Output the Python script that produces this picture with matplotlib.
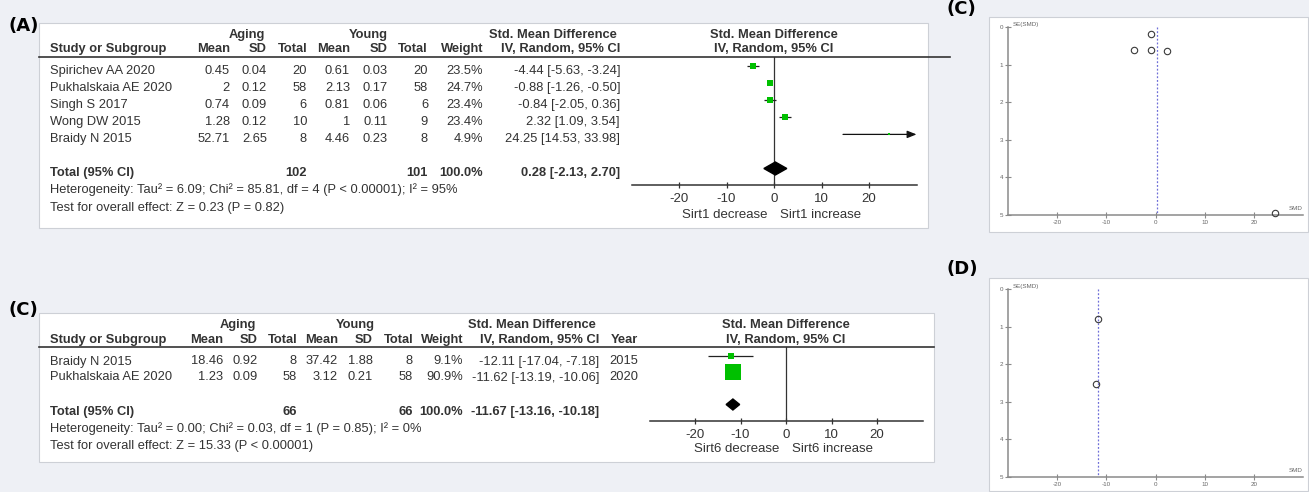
import matplotlib
matplotlib.use("Agg")
import matplotlib.pyplot as plt
from matplotlib.patches import Rectangle, Polygon

plt.rcParams["font.family"] = ["Liberation Sans", "DejaVu Sans"]
plt.rcParams["axes.unicode_minus"] = False

# ---------------- Sirt1 (panel A / funnel C) ----------------
sirt1_studies = ["Spirichev AA 2020", "Pukhalskaia AE 2020", "Singh S 2017",
                 "Wong DW 2015", "Braidy N 2015"]
sirt1_aging_mean = [0.45, 2, 0.74, 1.28, 52.71]
sirt1_aging_sd = [0.04, 0.12, 0.09, 0.12, 2.65]
sirt1_aging_n = [20, 58, 6, 10, 8]
sirt1_young_mean = [0.61, 2.13, 0.81, 1, 4.46]
sirt1_young_sd = [0.03, 0.17, 0.06, 0.11, 0.23]
sirt1_young_n = [20, 58, 6, 9, 8]
sirt1_weight = [23.5, 24.7, 23.4, 23.4, 4.9]
sirt1_smd = [-4.44, -0.88, -0.84, 2.32, 24.25]
sirt1_lo = [-5.63, -1.26, -2.05, 1.09, 14.53]
sirt1_hi = [-3.24, -0.50, 0.36, 3.54, 33.98]
sirt1_se = [0.61, 0.19, 0.62, 0.63, 4.96]
sirt1_total = [0.28, -2.13, 2.70]
sirt1_n_total = [102, 101]
sirt1_het = "Heterogeneity: Tau² = 6.09; Chi² = 85.81, df = 4 (P < 0.00001); I² = 95%"
sirt1_test = "Test for overall effect: Z = 0.23 (P = 0.82)"

# ---------------- Sirt6 (panel C / funnel D) ----------------
sirt6_studies = ["Braidy N 2015", "Pukhalskaia AE 2020"]
sirt6_aging_mean = [18.46, 1.23]
sirt6_aging_sd = [0.92, 0.09]
sirt6_aging_n = [8, 58]
sirt6_young_mean = [37.42, 3.12]
sirt6_young_sd = [1.88, 0.21]
sirt6_young_n = [8, 58]
sirt6_weight = [9.1, 90.9]
sirt6_smd = [-12.11, -11.62]
sirt6_lo = [-17.04, -13.19]
sirt6_hi = [-7.18, -10.06]
sirt6_year = [2015, 2020]
sirt6_se = [2.52, 0.80]
sirt6_total = [-11.67, -13.16, -10.18]
sirt6_n_total = [66, 66]
sirt6_het = "Heterogeneity: Tau² = 0.00; Chi² = 0.03, df = 1 (P = 0.85); I² = 0%"
sirt6_test = "Test for overall effect: Z = 15.33 (P < 0.00001)"

smd_ticks = [-20, -10, 0, 10, 20]
se_ticks = [0, 1, 2, 3, 4, 5]

W, H = 1309, 492
fig = plt.figure(figsize=(W / 100, H / 100), dpi=100)
fig.patch.set_facecolor("#eef0f5")

base = fig.add_axes([0, 0, 1, 1])
base.set_xlim(0, W)
base.set_ylim(H, 0)
base.axis("off")

TXT = "#333333"
GREEN = "#00c000"
FS = 9.3


def px_axes(x0, y0, x1, y1):
    a = fig.add_axes([x0 / W, 1 - y1 / H, (x1 - x0) / W, (y1 - y0) / H])
    a.set_facecolor("none")
    return a


def box(x0, y0, x1, y1):
    base.add_patch(Rectangle((x0, y0), x1 - x0, y1 - y0, facecolor="white",
                             edgecolor="#cdd0d6", lw=0.8, zorder=0))


def t(x, y, s, ha="left", bold=False, size=FS):
    base.text(x, y, s, ha=ha, va="baseline", fontsize=size, color=TXT,
              fontweight="bold" if bold else "normal")


def num(v):
    return f"{v:g}"


def forest(L, studies, am, asd, an, ym, ysd, yn, wt, smd, lo, hi, total,
           ntot, het, test, gene, year=None):
    box(*L["box"])
    cols = L["cols"]
    # header rows
    t(cols["aging_c"], L["h1"], "Aging", ha="center", bold=True)
    t(cols["young_c"], L["h1"], "Young", ha="center", bold=True)
    t(cols["smd_c"], L["h1"], "Std. Mean Difference", ha="center", bold=True)
    t(50, L["h2"], "Study or Subgroup", bold=True)
    for key, lab in [("am", "Mean"), ("asd", "SD"), ("an", "Total"),
                     ("ym", "Mean"), ("ysd", "SD"), ("yn", "Total"),
                     ("w", "Weight"), ("ci", "IV, Random, 95% CI")]:
        t(cols[key], L["h2"], lab, ha="right", bold=True)
    if year is not None:
        t(cols["year"], L["h2"], "Year", ha="right", bold=True)
    base.plot([39, L["line_end"]], [L["line"], L["line"]], color=TXT, lw=1.2)

    # study rows
    for i, name in enumerate(studies):
        yb = L["row0"] + L["dy"] * i
        t(50, yb, name)
        t(cols["am"], yb, num(am[i]), ha="right")
        t(cols["asd"], yb, num(asd[i]), ha="right")
        t(cols["an"], yb, str(an[i]), ha="right")
        t(cols["ym"], yb, num(ym[i]), ha="right")
        t(cols["ysd"], yb, num(ysd[i]), ha="right")
        t(cols["yn"], yb, str(yn[i]), ha="right")
        t(cols["w"], yb, f"{wt[i]:.1f}%", ha="right")
        t(cols["ci"], yb, f"{smd[i]:.2f} [{lo[i]:.2f}, {hi[i]:.2f}]", ha="right")
        if year is not None:
            t(cols["year"], yb, str(year[i]), ha="right")

    # totals
    tb = L["tot"]
    t(50, tb, "Total (95% CI)", bold=True)
    t(cols["an"], tb, str(ntot[0]), ha="right", bold=True)
    t(cols["yn"], tb, str(ntot[1]), ha="right", bold=True)
    t(cols["w"], tb, "100.0%", ha="right", bold=True)
    t(cols["ci"], tb, f"{total[0]:.2f} [{total[1]:.2f}, {total[2]:.2f}]",
      ha="right", bold=True)
    t(50, L["het"], het)
    t(50, L["test"], test)

    # plot column
    x0, x1 = L["plot_x"]
    ytop, yax = L["line"], L["axis"]
    t(x0 + (x1 - x0) / 2, L["h1"], "Std. Mean Difference", ha="center", bold=True)
    t(x0 + (x1 - x0) / 2, L["h2"], "IV, Random, 95% CI", ha="center", bold=True)

    ax = px_axes(x0, ytop, x1, yax)
    ax.set_xlim(-30, 30)
    ax.set_ylim(yax, ytop)
    for s in ["top", "left", "right"]:
        ax.spines[s].set_visible(False)
    ax.spines["bottom"].set_color(TXT)
    ax.spines["bottom"].set_linewidth(1.1)
    ax.set_yticks([])
    ax.set_xticks(smd_ticks)
    ax.tick_params(axis="x", direction="inout", length=5, width=0.9,
                   pad=3.5, labelsize=9.5, colors=TXT)
    ax.axvline(0, color=TXT, lw=0.9)

    xmax = ax.get_xlim()[1]
    for i in range(len(studies)):
        y = L["row0"] + L["dy"] * i - L["mk_off"]
        if hi[i] > xmax:
            ax.annotate("", xy=(xmax, y), xytext=(lo[i], y),
                        arrowprops=dict(arrowstyle="-|>,head_length=0.55,head_width=0.22",
                                        color="#111111", lw=0.9,
                                        shrinkA=0, shrinkB=0),
                        annotation_clip=False)
        else:
            ax.plot([lo[i], hi[i]], [y, y], color="#222222", lw=0.9,
                    solid_capstyle="butt")
        side = L["sq_scale"] * wt[i] ** 0.5
        ax.plot(smd[i], y, "s", ms=side * 0.72, color=GREEN, mec=GREEN,
                mew=0, zorder=5, clip_on=False)

    yd = L["tot"] - L["dia_off"]
    h = L["dia_h"]
    ax.add_patch(Polygon([(total[1], yd), (total[0], yd - h), (total[2], yd),
                          (total[0], yd + h)], closed=True, color="black",
                         zorder=6, clip_on=False))

    ax.annotate(f"{gene} decrease", xy=(0, L["lab"]), xytext=(-4.5, 0),
                textcoords="offset points", ha="right", va="baseline",
                fontsize=9.5, color=TXT, annotation_clip=False)
    ax.annotate(f"{gene} increase", xy=(0, L["lab"]), xytext=(4, 0),
                textcoords="offset points", ha="left", va="baseline",
                fontsize=9.5, color=TXT, annotation_clip=False)


def funnel(boxr, axr, smd, se, total):
    box(*boxr)
    ax = px_axes(*axr)
    ax.set_xlim(-30, 30)
    ax.set_ylim(5, 0)
    for s in ["top", "right"]:
        ax.spines[s].set_visible(False)
    for s in ["left", "bottom"]:
        ax.spines[s].set_color("#8a8a8a")
        ax.spines[s].set_linewidth(1.1)
    ax.set_xticks(smd_ticks)
    ax.set_yticks(se_ticks)
    ax.tick_params(direction="inout", length=4, width=0.8, colors="#8a8a8a",
                   labelsize=4.5, labelcolor="#666666", pad=1.5)
    ax.plot([total, total], [0, 5], ls=(0, (1.5, 1.5)), color="#6f6fd8",
            lw=0.9)
    ax.plot(smd, se, "o", mfc="none", mec="#3a3a3a", ms=4.6, mew=0.8,
            clip_on=False, zorder=5)
    ax.text(0.015, 1.0, "SE(SMD)", transform=ax.transAxes, ha="left",
            va="bottom", fontsize=4.5, color="#666666")
    ax.text(1.0, 0.02, "SMD", transform=ax.transAxes, ha="right",
            va="bottom", fontsize=4.5, color="#666666")


layout_a = dict(
    box=(39, 23, 928, 228), line=57, line_end=950, axis=185,
    h1=38, h2=52, row0=74, dy=17.1, mk_off=8, tot=176, dia_off=7.5,
    dia_h=6.5, het=193.5, test=210.5, lab=218.3, plot_x=(631.5, 916.5),
    sq_scale=1.25,
    cols=dict(aging_c=247, young_c=368, smd_c=553, am=230, asd=267, an=307,
              ym=350, ysd=388, yn=428, w=483, ci=620),
)
layout_c = dict(
    box=(39, 313, 934, 462), line=347, line_end=934, axis=421,
    h1=328, h2=343, row0=364.5, dy=16, mk_off=8.5, tot=415, dia_off=10.5,
    dia_h=5.5, het=432, test=449, lab=452.5, plot_x=(649.5, 922.5),
    sq_scale=1.75,
    cols=dict(aging_c=238, young_c=355, smd_c=532, am=223, asd=258, an=297,
              ym=338, ysd=373, yn=413, w=463, ci=599, year=638),
)

forest(layout_a, sirt1_studies, sirt1_aging_mean, sirt1_aging_sd,
       sirt1_aging_n, sirt1_young_mean, sirt1_young_sd, sirt1_young_n,
       sirt1_weight, sirt1_smd, sirt1_lo, sirt1_hi, sirt1_total,
       sirt1_n_total, sirt1_het, sirt1_test, "Sirt1")
forest(layout_c, sirt6_studies, sirt6_aging_mean, sirt6_aging_sd,
       sirt6_aging_n, sirt6_young_mean, sirt6_young_sd, sirt6_young_n,
       sirt6_weight, sirt6_smd, sirt6_lo, sirt6_hi, sirt6_total,
       sirt6_n_total, sirt6_het, sirt6_test, "Sirt6", year=sirt6_year)

funnel((989, 17, 1308, 232), (1008, 27, 1303, 215), sirt1_smd, sirt1_se,
       sirt1_total[0])
funnel((989, 278, 1308, 491), (1008, 289, 1303, 477), sirt6_smd, sirt6_se,
       sirt6_total[0])

# panel letters
for x, y, s in [(8, 31, "(A)"), (8, 315, "(C)"), (946, 14, "(C)"),
                (946, 274, "(D)")]:
    base.text(x, y, s, ha="left", va="baseline", fontsize=13,
              fontweight="bold", color="black", family="DejaVu Sans")

fig.savefig("out.png", dpi=100, facecolor=fig.get_facecolor())
